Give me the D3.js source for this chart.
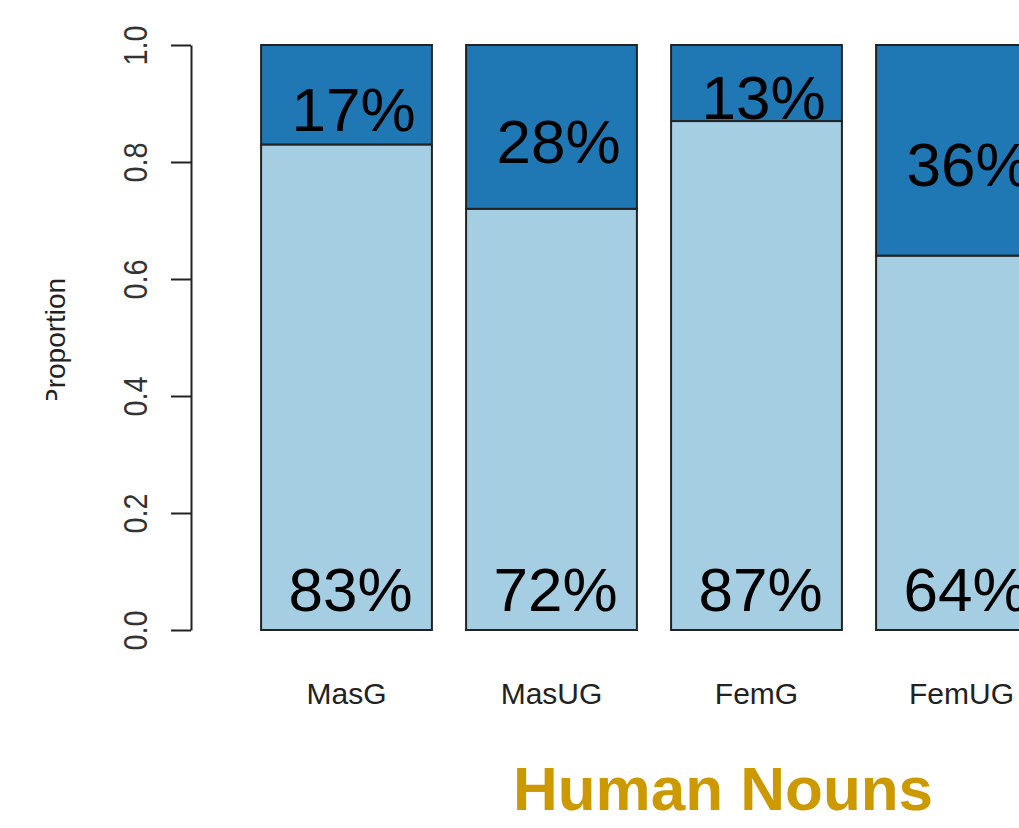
<!DOCTYPE html>
<html>
<head>
<meta charset="utf-8">
<script src="https://cdn.jsdelivr.net/npm/d3@7"></script>
<style>
  body { margin: 0; background: #fff; }
  text { font-family: "Liberation Sans", Arial, sans-serif; }
</style>
</head>
<body>
<div id="chart"></div>
<script>
"use strict";

// data
const categories = ["MasG", "MasUG", "FemG", "FemUG"];
const lowerShare = [0.83, 0.72, 0.87, 0.64];
const upperShare = [0.17, 0.28, 0.13, 0.36];
const yTicks = [0, 0.2, 0.4, 0.6, 0.8, 1.0];
const seriesColors = ["#a6cee3", "#1f78b4"];

const width = 1019;
const height = 828;

const svg = d3.select("#chart")
  .append("svg")
  .attr("width", width)
  .attr("height", height);

const x = d3.scaleBand()
  .domain(categories)
  .range([244, 244 + 4 * 205])
  .paddingInner(1 / 6)
  .paddingOuter(1 / 12);

const y = d3.scaleLinear()
  .domain([0, 1])
  .range([630, 45]);

const pct = d3.format(".0%");

const rows = categories.map((c, i) => ({ cat: c, lo: lowerShare[i], hi: upperShare[i] }));

// stacked bars
const bars = svg.append("g");

bars.selectAll(".lower")
  .data(rows)
  .join("rect")
    .attr("x", d => x(d.cat))
    .attr("y", d => y(d.lo))
    .attr("width", x.bandwidth())
    .attr("height", d => y(0) - y(d.lo))
    .attr("fill", seriesColors[0])
    .attr("stroke", "#222")
    .attr("stroke-width", 2);

bars.selectAll(".upper")
  .data(rows)
  .join("rect")
    .attr("x", d => x(d.cat))
    .attr("y", d => y(d.lo + d.hi))
    .attr("width", x.bandwidth())
    .attr("height", d => y(d.lo) - y(d.lo + d.hi))
    .attr("fill", seriesColors[1])
    .attr("stroke", "#222")
    .attr("stroke-width", 2);

// percentage labels (R text(..., pos = 1) style: hangs below the anchor)
svg.append("g").selectAll("text")
  .data(rows)
  .join("text")
    .attr("x", d => x(d.cat) + x.bandwidth() / 2 + 4)
    .attr("y", y(0.1) + 39)
    .attr("text-anchor", "middle")
    .attr("font-size", 62)
    .attr("fill", "#000")
    .text(d => pct(d.lo));

svg.append("g").selectAll("text")
  .data(rows)
  .join("text")
    .attr("x", d => x(d.cat) + x.bandwidth() / 2 + 7)
    .attr("y", d => y(d.lo + d.hi / 2) + 36)
    .attr("text-anchor", "middle")
    .attr("font-size", 62)
    .attr("fill", "#000")
    .text(d => pct(d.hi));

// y axis
const yAxis = svg.append("g")
  .attr("transform", "translate(191,0)")
  .call(d3.axisLeft(y).tickValues(yTicks).tickSize(20).tickSizeOuter(0).tickFormat(d3.format(".1f")));

yAxis.select(".domain").attr("stroke", "#222").attr("stroke-width", 2);
yAxis.selectAll(".tick line").attr("stroke", "#222").attr("stroke-width", 2);
yAxis.selectAll(".tick text")
  .attr("x", 0)
  .attr("y", 0)
  .attr("dy", 0)
  .attr("text-anchor", "middle")
  .attr("font-size", 34)
  .attr("font-family", "Liberation Sans, Arial, sans-serif")
  .attr("fill", "#333")
  .attr("transform", "translate(-44,0) rotate(-90) scale(0.85,1)");

// category labels
svg.append("g").selectAll("text")
  .data(categories)
  .join("text")
    .attr("x", d => x(d) + x.bandwidth() / 2)
    .attr("y", 704)
    .attr("text-anchor", "middle")
    .attr("font-size", 30)
    .attr("fill", "#222")
    .text(d => d);

// y label, its first letter cut off like in the picture
svg.append("clipPath")
  .attr("id", "ylabClip")
  .append("rect")
    .attr("x", 0)
    .attr("y", 0)
    .attr("width", 120)
    .attr("height", 400);

svg.append("g")
  .attr("clip-path", "url(#ylabClip)")
  .append("text")
    .attr("transform", "translate(65,407) rotate(-90)")
    .attr("text-anchor", "start")
    .attr("font-size", 28)
    .attr("fill", "#222")
    .text("Proportion");

// title
svg.append("text")
  .attr("x", 723)
  .attr("y", 810)
  .attr("text-anchor", "middle")
  .attr("font-size", 62)
  .attr("font-weight", "bold")
  .attr("fill", "#cc9900")
  .text("Human Nouns");
</script>
</body>
</html>
